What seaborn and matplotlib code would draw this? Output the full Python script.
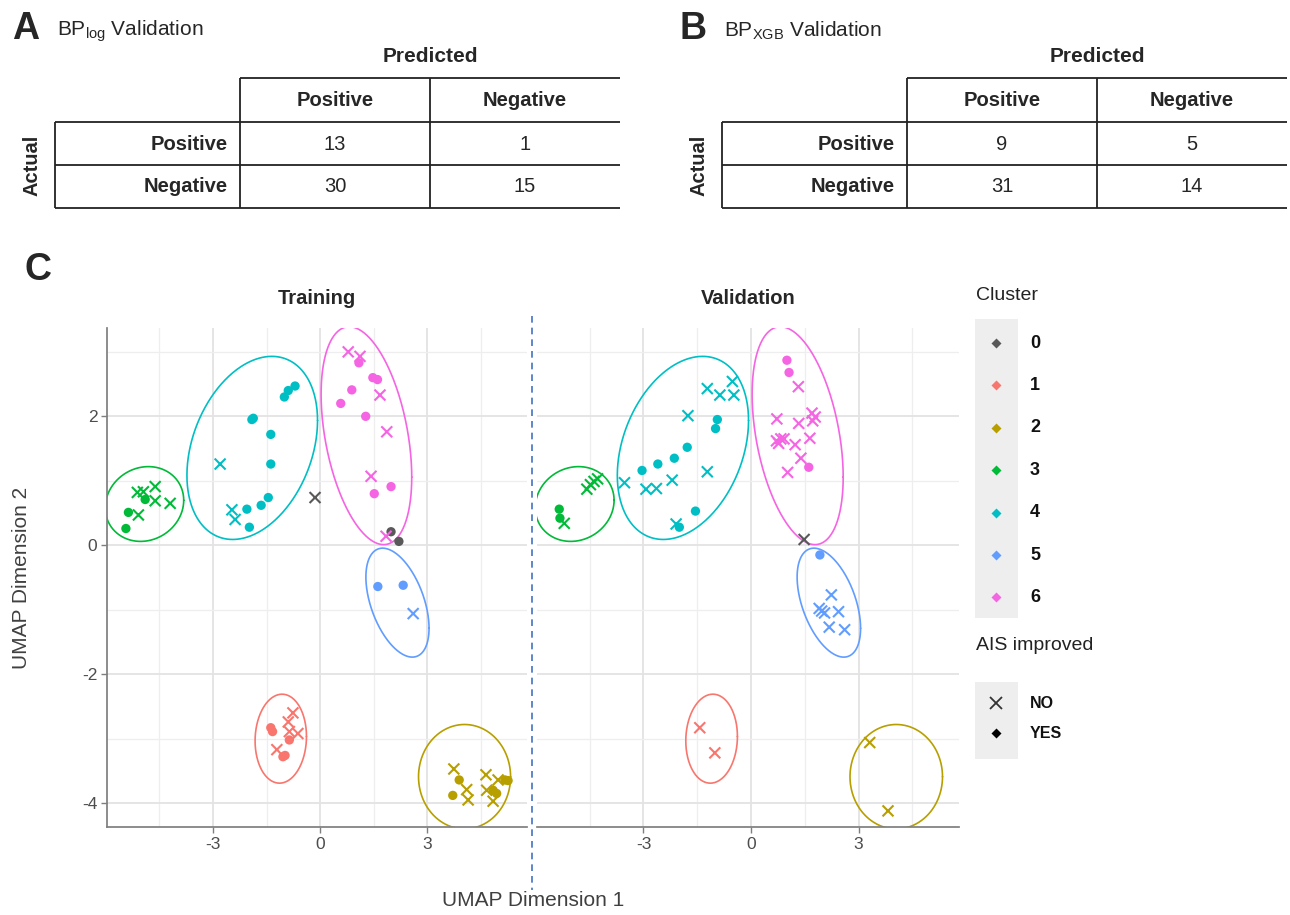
import numpy as np
import pandas as pd
import matplotlib
matplotlib.use("Agg")
import matplotlib.pyplot as plt
import seaborn as sns
from matplotlib.patches import Rectangle
from matplotlib.ticker import FixedLocator
from matplotlib import font_manager

# ---------------- data ----------------
pred_labels = ["Positive", "Negative"]
actual_labels = ["Positive", "Negative"]
cm_log = [[13, 1], [30, 15]]
cm_xgb = [[9, 5], [31, 14]]

clusters = ["0", "1", "2", "3", "4", "5", "6"]
cluster_colors = ["#595959", "#F8766D", "#B79F00", "#00BA38", "#00BFC4", "#619CFF", "#F564E3"]
ais_levels = ["NO", "YES"]

# Training set (UMAP coordinates)
train_x = [-0.14, 1.99, 2.21,                                                   # 0
           -1.38, -1.33, -0.76, -0.89, -0.86, -0.62, -0.86, -1.21, -1.04, -0.98,  # 1
           3.75, 3.90, 3.72, 4.11, 4.15, 4.65, 4.67, 4.85, 4.85, 4.99, 5.18, 5.27, 4.95,  # 2
           -5.12, -4.95, -4.62, -4.90, -4.62, -4.20, -5.37, -5.09, -5.44,         # 3
           -2.80, -1.91, -1.87, -1.38, -1.38, -1.00, -0.89, -0.70, -2.47, -2.38, -2.05, -1.65, -1.45, -1.98,  # 4
           1.62, 2.33, 2.61,                                                      # 5
           0.79, 1.12, 1.09, 1.48, 1.61, 0.89, 0.58, 1.68, 1.28, 1.87, 1.43, 1.99, 1.52, 1.85]  # 6
train_y = [0.74, 0.21, 0.06,
           -2.83, -2.89, -2.60, -2.74, -2.89, -2.92, -3.02, -3.17, -3.28, -3.26,
           -3.47, -3.64, -3.88, -3.79, -3.95, -3.56, -3.80, -3.97, -3.80, -3.64, -3.64, -3.65, -3.85,
           0.82, 0.83, 0.91, 0.71, 0.69, 0.65, 0.51, 0.47, 0.26,
           1.26, 1.95, 1.97, 1.72, 1.26, 2.30, 2.40, 2.47, 0.55, 0.40, 0.56, 0.62, 0.74, 0.28,
           -0.64, -0.62, -1.06,
           3.00, 2.93, 2.83, 2.60, 2.57, 2.41, 2.20, 2.33, 2.00, 1.76, 1.07, 0.91, 0.80, 0.14]
train_cluster = (["0"] * 3 + ["1"] * 10 + ["2"] * 13 + ["3"] * 9 + ["4"] * 14 + ["5"] * 3 + ["6"] * 14)
train_ais = ["NO", "YES", "YES",
             "YES", "YES", "NO", "NO", "NO", "NO", "YES", "NO", "YES", "YES",
             "NO", "YES", "YES", "NO", "NO", "NO", "NO", "NO", "YES", "NO", "YES", "YES", "YES",
             "NO", "NO", "NO", "YES", "NO", "NO", "YES", "NO", "YES",
             "NO", "YES", "YES", "YES", "YES", "YES", "YES", "YES", "NO", "NO", "YES", "YES", "YES", "YES",
             "YES", "YES", "NO",
             "NO", "NO", "YES", "YES", "YES", "YES", "YES", "NO", "YES", "NO", "NO", "YES", "YES", "NO"]

# Validation set
val_x = [1.48,
         -1.43, -1.01,
         3.31, 3.82,
         -5.35, -5.33, -5.21, -4.58, -4.48, -4.38, -4.28,
         -3.53, -3.04, -2.93, -2.64, -2.60, -2.20, -2.14, -1.78, -1.76, -1.22, -1.22, -0.87, -0.52, -0.48, -0.94, -0.99, -1.55, -2.09, -2.00,
         1.92, 2.24, 1.90, 1.97, 2.05, 2.44, 2.18, 2.61,
         1.00, 1.06, 1.32, 0.72, 1.33, 1.70, 1.79, 1.72, 0.71, 0.83, 0.92, 0.77, 1.23, 1.64, 1.39, 1.61, 1.02]
val_y = [0.09,
         -2.83, -3.22,
         -3.06, -4.12,
         0.56, 0.42, 0.34, 0.87, 0.94, 0.99, 1.03,
         0.97, 1.16, 0.87, 0.88, 1.26, 1.01, 1.35, 1.52, 2.01, 1.14, 2.43, 2.33, 2.54, 2.33, 1.95, 1.81, 0.53, 0.33, 0.28,
         -0.15, -0.77, -0.98, -1.02, -1.05, -1.03, -1.27, -1.31,
         2.87, 2.68, 2.46, 1.96, 1.89, 2.05, 1.99, 1.93, 1.62, 1.65, 1.65, 1.58, 1.56, 1.66, 1.35, 1.21, 1.13]
val_cluster = (["0"] * 1 + ["1"] * 2 + ["2"] * 2 + ["3"] * 7 + ["4"] * 19 + ["5"] * 8 + ["6"] * 17)
val_ais = ["NO",
           "NO", "NO",
           "NO", "NO",
           "YES", "YES", "NO", "NO", "NO", "NO", "NO",
           "NO", "YES", "NO", "NO", "YES", "NO", "YES", "YES", "NO", "NO", "NO", "NO", "NO", "NO", "YES", "YES", "YES", "NO", "YES",
           "YES", "NO", "NO", "NO", "NO", "NO", "NO", "NO",
           "YES", "YES", "NO", "NO", "NO", "NO", "NO", "NO", "NO", "NO", "NO", "NO", "NO", "NO", "NO", "YES", "NO"]

# Cluster ellipses (centre, half-extent in x / y, correlation)
ell_cluster = ["1", "2", "3", "4", "5", "6"]
ell_cx = [-1.10, 4.05, -4.92, -1.90, 2.17, 1.30]
ell_cy = [-3.00, -3.59, 0.64, 1.51, -0.89, 1.70]
ell_sx = [0.72, 1.29, 1.10, 1.83, 0.885, 1.27]
ell_sy = [0.69, 0.81, 0.58, 1.42, 0.845, 1.69]
ell_rho = [0.05, 0.0, 0.10, 0.30, -0.47, -0.38]

# ---------------- style ----------------
sns.set_theme(style="white")
avail = {f.name for f in font_manager.fontManager.ttflist}
base_font = ["Liberation Sans", "DejaVu Sans"]
table_font = (["Liberation Sans Narrow"] if "Liberation Sans Narrow" in avail else []) + base_font
plt.rcParams["font.family"] = base_font
plt.rcParams["axes.unicode_minus"] = False
plt.rcParams["mathtext.fontset"] = "custom"
plt.rcParams["mathtext.rm"] = "Liberation Sans"

W, H = 1290, 915
fig = plt.figure(figsize=(W / 100, H / 100), dpi=100)


def frac(l, t, r, b):
    return [l / W, 1 - b / H, (r - l) / W, (b - t) / H]


ov = fig.add_axes([0, 0, 1, 1], zorder=5)
ov.set_xlim(0, W)
ov.set_ylim(H, 0)
ov.axis("off")
ov.patch.set_alpha(0)

# ---------------- confusion tables ----------------
line_kw = dict(color="#222222", lw=1.3, solid_capstyle="butt")


def draw_table(dx, letter, sub, cm):
    ov.text(12 + dx, 29, letter, fontsize=27, fontweight="bold", va="center", ha="left", family=base_font)
    ov.text(57 + dx, 31, r"BP$_{\mathregular{%s}}$ Validation" % sub, fontsize=15, va="center", ha="left",
            family=table_font)
    ov.text(430 + dx, 57, "Predicted", fontsize=15, fontweight="bold", ha="center", va="center", family=table_font)
    ov.plot([240 + dx, 620 + dx], [78, 78], **line_kw)
    for yy in (122, 165, 208):
        ov.plot([55 + dx, 620 + dx], [yy, yy], **line_kw)
    ov.plot([55 + dx, 55 + dx], [122, 208], **line_kw)
    for xx in (240, 430):
        ov.plot([xx + dx, xx + dx], [78, 208], **line_kw)
    col_c = [335, 525]
    row_c = [144, 187]
    for j, lab in enumerate(pred_labels):
        ov.text(col_c[j] + dx, 100, lab, fontsize=14.5, fontweight="bold", ha="center", va="center", family=table_font)
    for i, lab in enumerate(actual_labels):
        ov.text(228 + dx, row_c[i], lab, fontsize=14.5, fontweight="bold", ha="right", va="center", family=table_font)
        for j in range(2):
            ov.text(col_c[j] + dx, row_c[i], str(cm[i][j]), fontsize=14.5, ha="center", va="center", family=table_font)
    ov.text(32 + dx, 165, "Actual", fontsize=14.5, fontweight="bold", rotation=90, ha="center", va="center",
            family=table_font)


draw_table(0, "A", "log", cm_log)
draw_table(667, "B", "XGB", cm_xgb)

# ---------------- UMAP panels ----------------
pal = dict(zip(clusters, cluster_colors))
df_tr = pd.DataFrame(dict(x=train_x, y=train_y, cluster=train_cluster, ais=train_ais))
df_va = pd.DataFrame(dict(x=val_x, y=val_y, cluster=val_cluster, ais=val_ais))

ax_tr = fig.add_axes(frac(107, 328, 527, 827))
ax_va = fig.add_axes(frac(537, 328, 959, 827))

t = np.linspace(0, 2 * np.pi, 400)
for ax, df in ((ax_tr, df_tr), (ax_va, df_va)):
    for c, cx, cy, sx, sy, r in zip(ell_cluster, ell_cx, ell_cy, ell_sx, ell_sy, ell_rho):
        phi = np.arccos(r)
        ax.plot(cx + sx * np.cos(t), cy + sy * np.cos(t - phi), color=pal[c], lw=1.2, zorder=2)
    sns.scatterplot(data=df[df.ais == "YES"], x="x", y="y", hue="cluster", palette=pal, marker="o",
                    s=45, edgecolor="none", legend=False, ax=ax, zorder=3)
    sns.scatterplot(data=df[df.ais == "NO"], x="x", y="y", hue="cluster", palette=pal, marker="x",
                    s=62, linewidth=1.5, legend=False, ax=ax, zorder=3)
    ax.set_xlim(-5.97, 5.8)
    ax.set_ylim(-4.37, 3.37)
    ax.xaxis.set_major_locator(FixedLocator([-3, 0, 3]))
    ax.xaxis.set_minor_locator(FixedLocator([-4.5, -1.5, 1.5, 4.5]))
    ax.yaxis.set_major_locator(FixedLocator([-4, -2, 0, 2]))
    ax.yaxis.set_minor_locator(FixedLocator([-3, -1, 1, 3]))
    ax.grid(True, which="major", color="#E3E3E3", lw=1.3)
    ax.grid(True, which="minor", color="#EEEEEE", lw=0.9)
    ax.set_axisbelow(True)
    ax.set_xlabel("")
    ax.set_ylabel("")
    for s in ("top", "right"):
        ax.spines[s].set_visible(False)
    ax.spines["bottom"].set_color("#7F7F7F")
    ax.spines["left"].set_color("#7F7F7F")
    ax.tick_params(axis="both", which="major", labelsize=12.5, labelcolor="#4D4D4D", color="#7F7F7F",
                   length=4, width=1, direction="out", bottom=True, left=True, pad=3)
    ax.tick_params(which="minor", length=0)

ax_va.spines["left"].set_visible(False)
ax_va.tick_params(axis="y", left=False, labelleft=False)

# facet titles and axis labels
ov.text(317, 298, "Training", fontsize=14.5, fontweight="bold", ha="center", va="center")
ov.text(748, 298, "Validation", fontsize=14.5, fontweight="bold", ha="center", va="center")
ov.text(25, 270, "C", fontsize=27, fontweight="bold", ha="left", va="center")
ov.text(533, 900, "UMAP Dimension 1", fontsize=15, color="#404040", ha="center", va="center")
ov.text(22, 578, "UMAP Dimension 2", fontsize=15, color="#404040", ha="center", va="center", rotation=90)

# dashed separator
ov.plot([532, 532], [316, 890], color="#4472C4", lw=1.2, ls=(0, (4, 3)))

# ---------------- legend ----------------
ov.text(976, 295, "Cluster", fontsize=14, ha="left", va="center", color="#222222")
ov.add_patch(Rectangle((975, 319), 43, 299, facecolor="#EEEEEE", edgecolor="none"))
for i, c in enumerate(clusters):
    yy = 343 + 42.4 * i
    ov.plot([996], [yy], marker="D", ms=5, color=pal[c], mec="none")
    ov.text(1030, yy, c, fontsize=13, fontweight="bold", ha="left", va="center", color="#111111")

ov.text(976, 645, "AIS improved", fontsize=14, ha="left", va="center", color="#222222")
ov.add_patch(Rectangle((975, 682), 43, 77, facecolor="#EEEEEE", edgecolor="none"))
ov.plot([996], [703], marker="x", ms=8, mew=1.3, color="#333333")
ov.plot([996], [733], marker="D", ms=5, color="black", mec="none")
ov.text(1030, 703, ais_levels[0], fontsize=11.5, fontweight="bold", ha="left", va="center", color="#111111")
ov.text(1030, 733, ais_levels[1], fontsize=11.5, fontweight="bold", ha="left", va="center", color="#111111")

fig.savefig("out.png", dpi=100, facecolor="white")
